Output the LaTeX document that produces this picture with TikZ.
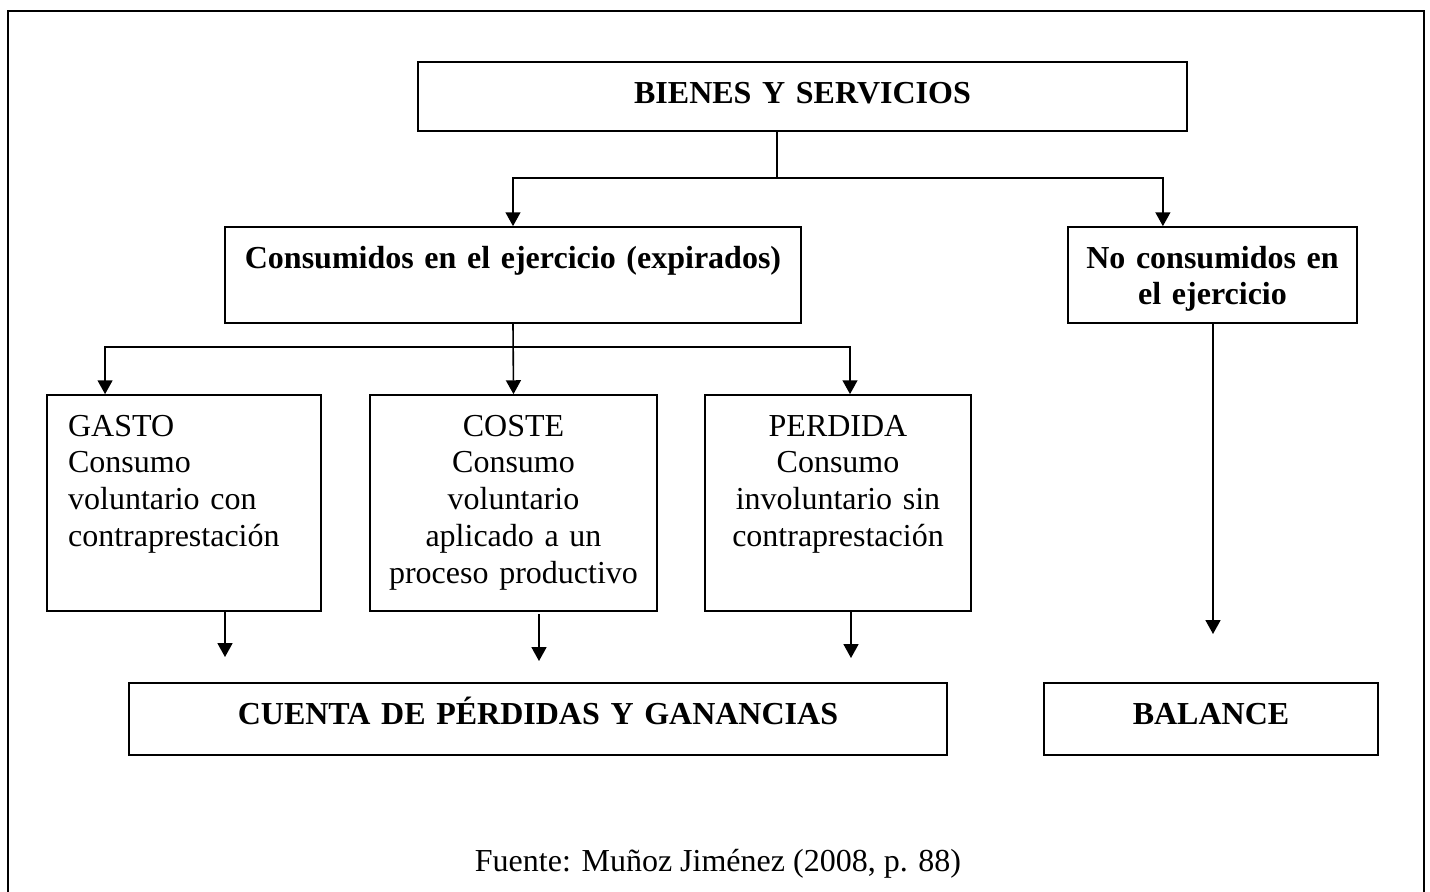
\documentclass[tikz,border=0pt]{standalone}
\usepackage{fontspec}
\setmainfont{Liberation Serif}
\usetikzlibrary{arrows.meta}

\begin{document}
\begin{tikzpicture}[x=0.375pt, y=-0.375pt, line width=0.6pt,
		>={Triangle[length=5.2pt, width=5.6pt]},
		caja/.style={draw, inner sep=0pt, anchor=base, align=center, font=\fontsize{12}{13.8}\selectfont},
		titulo/.style={caja, font=\fontsize{12}{13.8}\selectfont\bfseries}]
				\useasboundingbox (0, 0) rectangle (1430, 892);
				\draw[line width=0.8pt] (8, 892) -- (8, 11) -- (1424, 11) -- (1424, 892);
				\node[titulo, text width=288.4pt, text height=15.4pt, text depth=10.5pt] (bienes) at (802.5, 103) {BIENES Y SERVICIOS};
				\node[titulo, text width=216pt, text height=15.4pt, text depth=20.6pt] (cons) at (513, 268) {Consumidos en el ejercicio (expirados)};
				\node[titulo, text width=108.4pt, text height=15.4pt, text depth=20.6pt] (nocons) at (1212.5, 268) {No consumidos en\\el ejercicio};
				\node[caja, align=left, inner xsep=7.9pt, text width=86.9pt, text height=15.4pt, text depth=65.6pt] (gasto) at (184, 436) {GASTO\\Consumo\\voluntario con\\contraprestación};
				\node[caja, text width=107.6pt, text height=15.4pt, text depth=65.6pt] (coste) at (513.5, 436) {COSTE\\Consumo\\voluntario\\aplicado a un\\proceso productivo};
				\node[caja, text width=99.75pt, text height=15.4pt, text depth=65.6pt] (perdida) at (838, 436) {PERDIDA\\Consumo\\involuntario sin\\contraprestación};
				\node[titulo, text width=306.75pt, text height=15.4pt, text depth=11.6pt] (cuenta) at (538, 724) {CUENTA DE PÉRDIDAS Y GANANCIAS};
				\node[titulo, text width=125.25pt, text height=15.4pt, text depth=11.6pt] (balance) at (1211, 724) {BALANCE};
				\node[anchor=base, font=\fontsize{12}{13.8}\selectfont] (fuente) at (718, 871) {Fuente: Muñoz Jiménez (2008, p. 88)};
				\coordinate (bj) at (777, 178);
				\coordinate (cj) at (513, 347);
				\coordinate (g1) at (225, 657);
				\coordinate (c1) at (539, 661);
				\coordinate (p1) at (851, 658);
				\coordinate (n1) at (1213, 634);
				\draw (bienes.south -| bj) -- (bj);
				\draw[->] (bj) -| (cons.north);
				\draw[->] (bj) -| ([xshift=-18.6pt]nocons.north);
				\draw[->] (cons.south) -- (coste.north);
				\draw[->] (cj) -| ([xshift=-29.6pt]gasto.north);
				\draw[->] (cj) -| ([xshift=4.5pt]perdida.north);
				\draw[->] (gasto.south -| g1) -- (g1);
				\draw[->] ([yshift=-1pt]coste.south -| c1) -- (c1);
				\draw[->] (perdida.south -| p1) -- (p1);
				\draw[->] (nocons.south -| n1) -- (n1);
			\end{tikzpicture}
\end{document}
